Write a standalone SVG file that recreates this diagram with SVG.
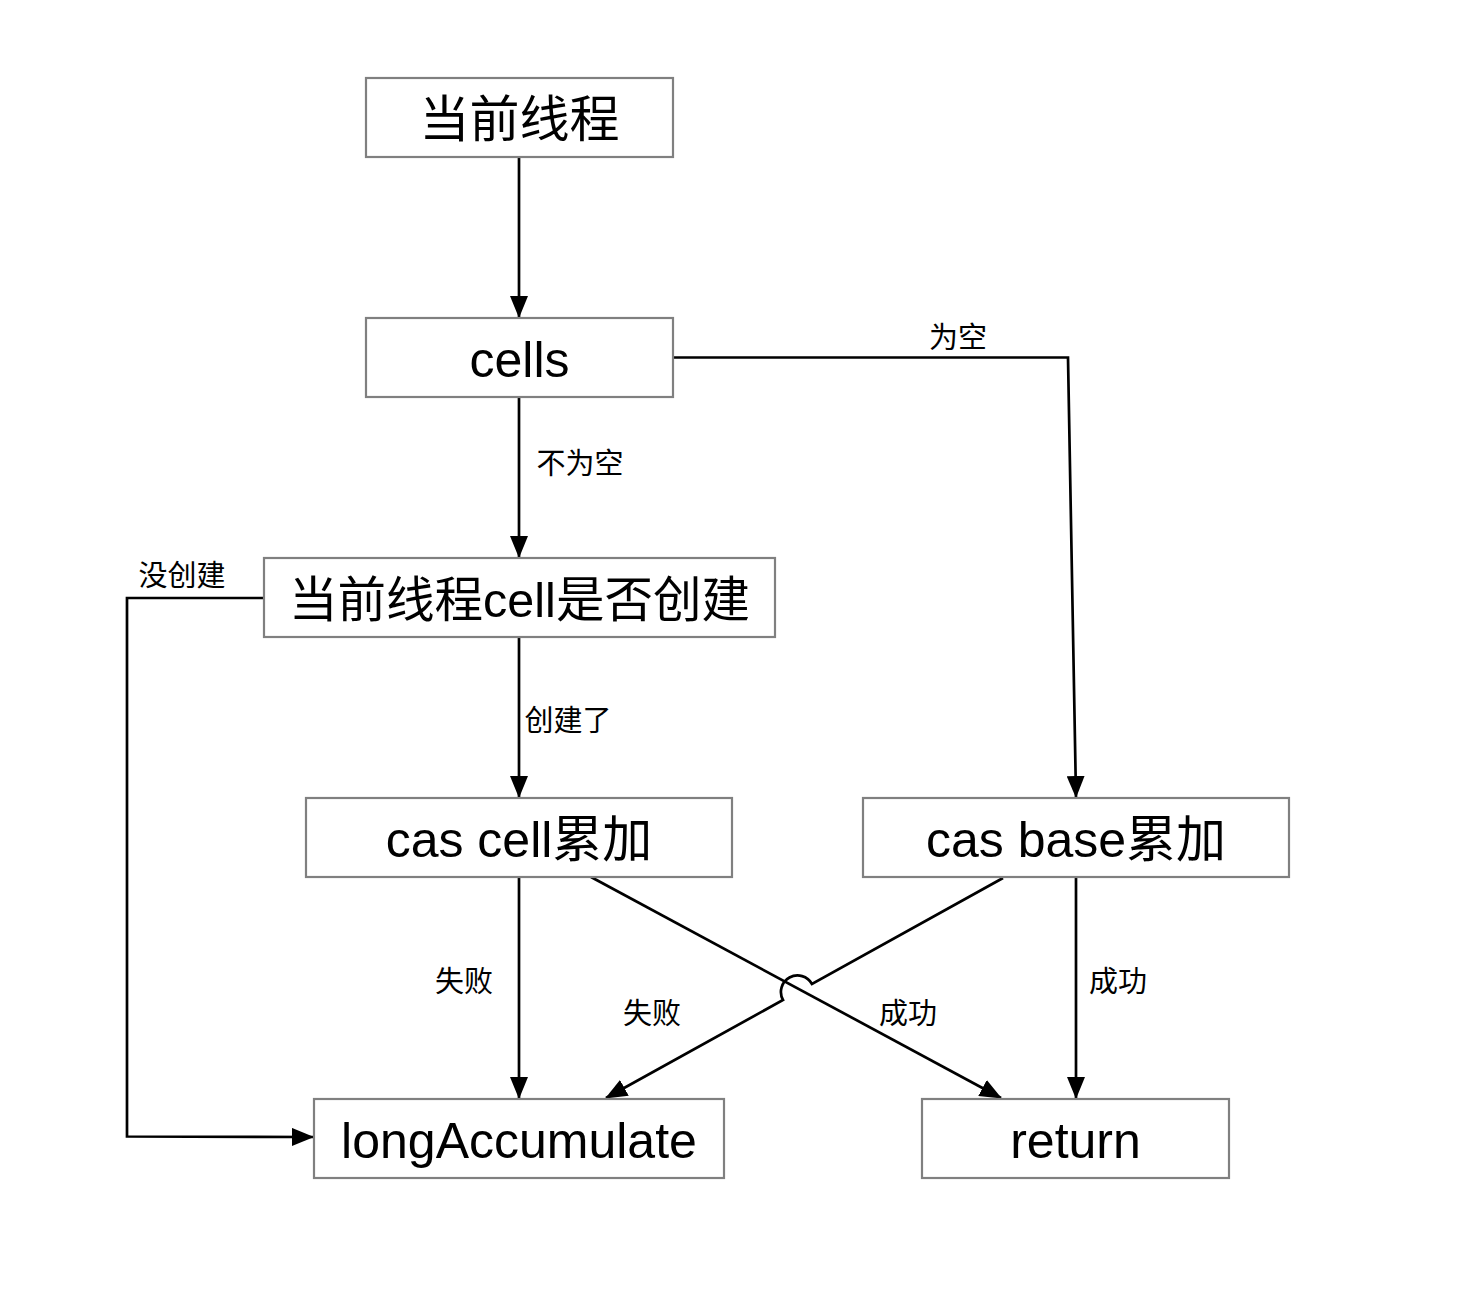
<svg xmlns="http://www.w3.org/2000/svg" width="1464" height="1310" viewBox="0 0 1464 1310">
<style>
.box{fill:#fff;stroke:#808080;stroke-width:2.2}
.t{font-family:"Liberation Sans","Noto Sans CJK SC",sans-serif;font-size:50px;fill:#000;text-anchor:middle;dominant-baseline:central}
.z{font-size:48.5px}
.l{font-family:"Liberation Sans","Noto Sans CJK SC",sans-serif;font-size:29px;fill:#000;text-anchor:middle;dominant-baseline:central}
.c{fill:none;stroke:#000;stroke-width:2.7}
</style>
<defs>
<marker id="a" viewBox="0 0 22 18" refX="21" refY="9" markerWidth="22" markerHeight="18" markerUnits="userSpaceOnUse" orient="auto">
<path d="M0,0 L22,9 L0,18 Z" fill="#000"/>
</marker>
</defs>
<rect width="1464" height="1310" fill="#fff"/>
<g id="connectors">
<path class="c" d="M519,157 L519,317" marker-end="url(#a)"/>
<path class="c" d="M519,397 L519,557" marker-end="url(#a)"/>
<path class="c" d="M673,357.5 L1068,357.5 L1076,797" marker-end="url(#a)"/>
<path class="c" d="M264,598 L127,598 L127,1136.5 L313,1137" marker-end="url(#a)"/>
<path class="c" d="M519,637 L519,797" marker-end="url(#a)"/>
<path class="c" d="M519,877 L519,1098" marker-end="url(#a)"/>
<path class="c" d="M591,877 L1001,1098" marker-end="url(#a)"/>
<path class="c" d="M1003,878 L812,984 A16.5,16.5 0 0 0 783,1000 L606,1098" marker-end="url(#a)"/>
<path class="c" d="M1076,877 L1076,1098" marker-end="url(#a)"/>
</g>
<g id="labels">
<text class="l" x="580" y="464">不为空</text>
<text class="l" x="958" y="338">为空</text>
<text class="l" x="182" y="576">没创建</text>
<text class="l" x="568" y="721">创建了</text>
<text class="l" x="464" y="982">失败</text>
<text class="l" x="652" y="1014">失败</text>
<text class="l" x="908" y="1014">成功</text>
<text class="l" x="1118" y="982">成功</text>
</g>
<g id="n1"><rect class="box" x="366" y="78" width="307" height="79"/><text class="t" x="519.5" y="120">当前线程</text></g>
<g id="n2"><rect class="box" x="366" y="318" width="307" height="79"/><text class="t" x="519.5" y="360">cells</text></g>
<g id="n3"><rect class="box" x="264" y="558" width="511" height="79"/><text class="t z" x="519.5" y="600">当前线程cell是否创建</text></g>
<g id="n4"><rect class="box" x="306" y="798" width="426" height="79"/><text class="t" x="519" y="840">cas cell累加</text></g>
<g id="n5"><rect class="box" x="863" y="798" width="426" height="79"/><text class="t" x="1076" y="840">cas base累加</text></g>
<g id="n6"><rect class="box" x="314" y="1099" width="410" height="79"/><text class="t" x="519" y="1141">longAccumulate</text></g>
<g id="n7"><rect class="box" x="922" y="1099" width="307" height="79"/><text class="t" x="1075.5" y="1141">return</text></g>
</svg>
